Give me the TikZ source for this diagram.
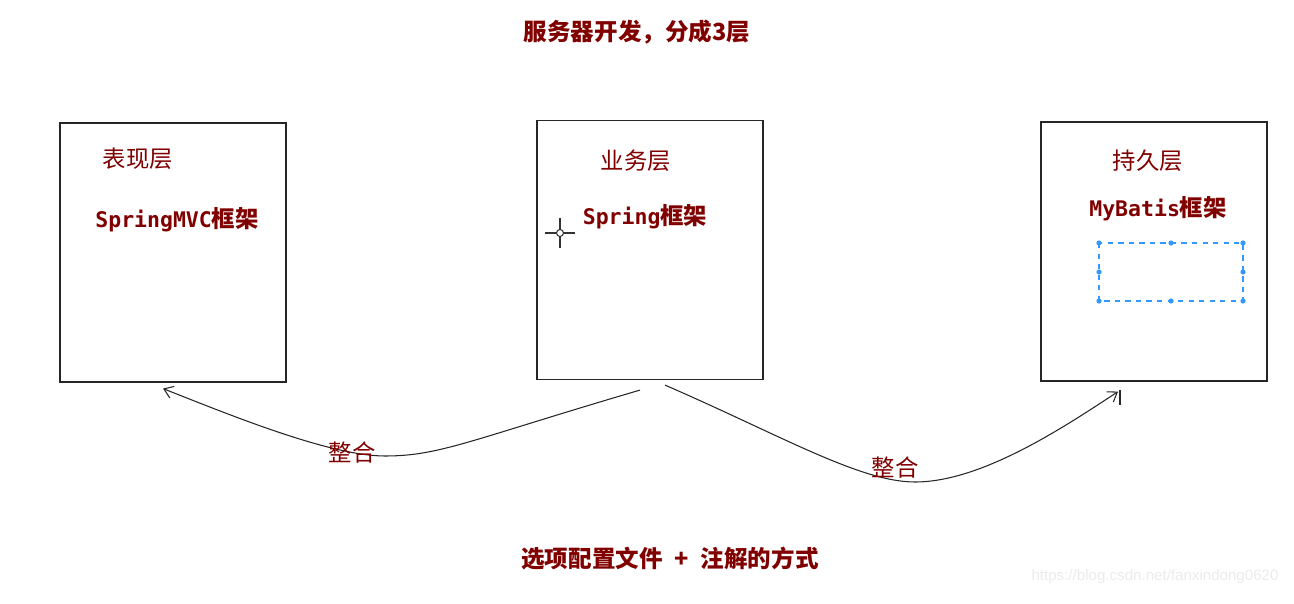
\documentclass[tikz,border=0pt]{standalone}
\usepackage{fontspec}
\setmainfont{Noto Sans CJK SC}
\newfontfamily\monofont{DejaVu Sans Mono}[Scale=0.92]
\newfontfamily\webfont{Liberation Sans}
\usepackage{tikz}
\usetikzlibrary{arrows.meta,positioning}
\definecolor{labelred}{RGB}{128,0,0}
\definecolor{selblue}{RGB}{51,153,255}

\begin{document}
\begin{tikzpicture}[x=0.02cm, y=-0.02cm, >={Straight Barb[length=5pt, width=7pt]},
    every node/.style={font=\fontsize{13.3}{15}\selectfont, text=labelred},
    layerbox/.style={draw=black!85, line width=0.7pt, minimum width=4.52cm, minimum height=5.18cm, inner sep=0pt},
    heading/.style={font=\fontsize{13.4}{15}\selectfont\bfseries},
    framework/.style={font=\fontsize{13.3}{15}\selectfont\bfseries},
    link/.style={draw=black!85, line width=0.6pt}]
  \useasboundingbox (0,0) rectangle (1294,604);

  % title and bottom line
  \node[heading] (title) at (637,32) {服务器开发，分成3层};
  \node[heading] (note) at (670,559) {选项配置文件 \;+\; 注解的方式};

  % the three layers
  \node[layerbox] (web) at (173,252.5) {};
  \node[layerbox] (biz) at (650,250) {};
  \node[layerbox] (dao) at (1154,251.5) {};

  \node (webname) at (138,159) {表现层};
  \node[framework] (webfw) at (177,220) {{\monofont SpringMVC}框架};
  \node (bizname) at (636,161) {业务层};
  \node[framework] (bizfw) at (645,217) {{\monofont Spring}框架};
  \node (daoname) at (1148,161) {持久层};
  \node[framework] (daofw) at (1158,209) {{\monofont MyBatis}框架};

  % selection frame inside the persistence layer
  \draw[selblue, dashed, line width=0.6pt] (1099,243) rectangle (1243,301);
  \foreach \hx/\hy in {1099/243, 1171/243, 1243/243, 1099/272, 1243/272, 1099/301, 1171/301, 1243/301}
    \fill[selblue] (\hx,\hy) circle (2.6);

  % mouse cursor
  \draw[black!80, line width=0.6pt] (545,233) -- (556,233) (564,233) -- (575,233)
    (560,218) -- (560,229) (560,237) -- (560,248);
  \draw[black!80, line width=0.6pt] (560,233) circle (3.5);

  % integration arrows
  \coordinate (bizleft) at ([xshift=-0.2cm, yshift=-0.2cm]biz.south);
  \coordinate (webend) at ([xshift=-0.2cm, yshift=-0.12cm]web.south);
  \coordinate (bizright) at ([xshift=0.3cm, yshift=-0.1cm]biz.south);
  \coordinate (daoend) at ([xshift=-0.72cm, yshift=-0.2cm]dao.south);
  \draw[link, ->] (bizleft) .. controls (470,440) and (440,456) .. (385,456)
    .. controls (330,456) and (230,415) .. (webend);
  \draw[link, ->] (bizright) .. controls (780,435) and (860,482) .. (915,482)
    .. controls (980,482) and (1060,430) .. (daoend);
  \draw[black!85, line width=0.6pt] (1120,390) -- (1120,405);
  \node (join1) at (352,453) {整合};
  \node (join2) at (895,468) {整合};

  % watermark
  \node[font=\webfont\fontsize{8.6}{10}\selectfont, text=black!8] (mark) at (1155,577) {https://blog.csdn.net/fanxindong0620};
\end{tikzpicture}
\end{document}
